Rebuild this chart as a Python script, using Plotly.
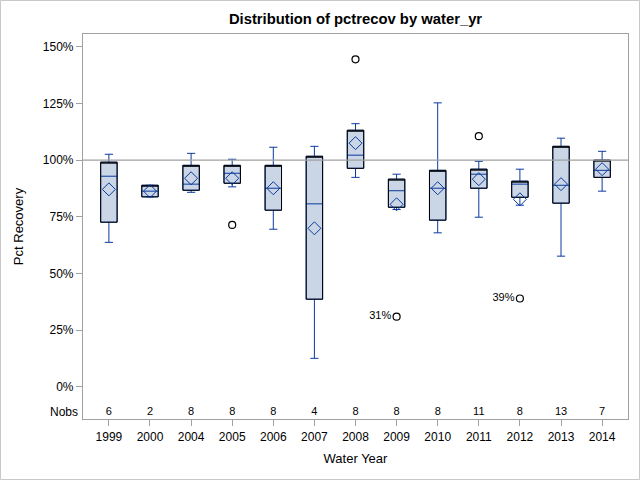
import plotly.graph_objects as go

years = ["1999", "2000", "2004", "2005", "2006", "2007", "2008", "2009", "2010", "2011", "2012", "2013", "2014"]
nobs = [6, 2, 8, 8, 8, 4, 8, 8, 8, 11, 8, 13, 7]
lower_whisker = [63.7, 83.8, 85.8, 88.2, 69.5, 12.5, 92.4, 78.2, 67.9, 74.8, 80.1, 57.6, 86.3]
q1 = [72.6, 83.8, 86.7, 89.8, 77.9, 38.6, 96.4, 79.2, 73.5, 87.6, 83.6, 81.0, 92.4]
median = [92.9, 86.3, 89.4, 94.2, 87.6, 80.7, 102.2, 86.5, 87.6, 93.8, 89.4, 88.9, 95.5]
q3 = [99.1, 88.9, 97.7, 97.7, 97.7, 101.7, 113.2, 91.6, 95.5, 96.0, 90.7, 106.1, 100.0]
upper_whisker = [102.6, 88.9, 103.0, 100.4, 105.7, 106.1, 116.1, 93.8, 125.3, 99.5, 96.0, 109.7, 103.9]
means = [87.1, 86.3, 92.0, 92.0, 87.6, 69.9, 107.5, 80.5, 87.6, 91.6, 82.7, 89.4, 96.0]
outlier_years = ["2005", "2008", "2009", "2011", "2012"]
outlier_values = [71.4, 144.5, 30.9, 110.6, 38.9]
outlier_labels = ["", "", "31%", "", "39%"]
ref_value = 100
y_ticks = [0, 25, 50, 75, 100, 125, 150]
nobs_row_y = -11.2

BLUE = "#0a3a9e"
FILL = "#cad5e5"
AXIS = "#a0a0a0"
FONT = "Liberation Sans, Arial, sans-serif"

fig = go.Figure()

# filled box with blue whiskers and median
fig.add_trace(go.Box(
    x=years, q1=q1, median=median, q3=q3,
    lowerfence=lower_whisker, upperfence=upper_whisker,
    fillcolor=FILL, line=dict(color=BLUE, width=1),
    width=0.4, whiskerwidth=0.5, boxpoints=False, hoverinfo="skip",
    showlegend=False,
))
# black box outline on top
fig.add_trace(go.Box(
    x=years, q1=q1, median=q3, q3=q3,
    lowerfence=q1, upperfence=q3,
    fillcolor="rgba(0,0,0,0)", line=dict(color="black", width=1),
    width=0.4, whiskerwidth=0, boxpoints=False, hoverinfo="skip",
    showlegend=False,
))
# means
fig.add_trace(go.Scatter(
    x=years, y=means, mode="markers",
    marker=dict(symbol="diamond-open", size=10, color=BLUE, line=dict(width=1, color=BLUE)),
    showlegend=False, hoverinfo="skip",
))
# outliers
fig.add_trace(go.Scatter(
    x=outlier_years, y=outlier_values, mode="markers+text",
    text=outlier_labels, textposition="middle left",
    textfont=dict(family=FONT, size=11, color="black"),
    marker=dict(symbol="circle-open", size=7, color="black", line=dict(width=1.2, color="black")),
    showlegend=False, hoverinfo="skip",
))
# Nobs row
fig.add_trace(go.Scatter(
    x=years, y=[nobs_row_y] * len(years), mode="text",
    text=[str(n) for n in nobs],
    textfont=dict(family=FONT, size=11, color="black"),
    showlegend=False, hoverinfo="skip",
))

fig.add_hline(y=ref_value, line=dict(color=AXIS, width=1.2), layer="above")

fig.add_annotation(text="Nobs", xref="paper", yref="y", x=0, y=nobs_row_y,
                   xanchor="right", xshift=-3, showarrow=False,
                   font=dict(family=FONT, size=12, color="black"))

# outer border
fig.add_shape(type="rect", xref="paper", yref="paper",
              x0=-82.5 / 545, x1=1 + 11.5 / 545, y0=-60.5 / 385, y1=1 + 33.5 / 385,
              line=dict(color="#c8c8c8", width=1), layer="below")

fig.update_layout(
    width=640, height=480,
    margin=dict(l=83, r=12, t=34, b=61),
    paper_bgcolor="white", plot_bgcolor="white",
    boxmode="overlay",
    font=dict(family=FONT, size=12, color="black"),
    title=dict(text="<b>Distribution of pctrecov by water_yr</b>",
               x=(83 + 545 / 2) / 640, xanchor="center", y=1 - 19 / 480, yanchor="middle",
               font=dict(family=FONT, size=14.8, color="black")),
    xaxis=dict(
        type="category", categoryorder="array", categoryarray=years,
        range=[-0.63, 12.63],
        title=dict(text="Water Year", font=dict(family=FONT, size=13), standoff=11),
        showline=True, linecolor=AXIS, mirror=True, linewidth=1.2,
        ticks="outside", ticklen=6, tickcolor=AXIS,
        showgrid=False, zeroline=False,
        tickfont=dict(family=FONT, size=12),
    ),
    yaxis=dict(
        range=[-14.3, 155.7],
        tickvals=y_ticks, ticktext=[f"{v}%" for v in y_ticks],
        title=dict(text="Pct Recovery", font=dict(family=FONT, size=13), standoff=16),
        showline=True, linecolor=AXIS, mirror=True, linewidth=1.2,
        ticks="outside", ticklen=6, tickcolor=AXIS,
        showgrid=False, zeroline=False,
        tickfont=dict(family=FONT, size=12),
    ),
)

fig.write_html("out.html", config={"displayModeBar": False},
               post_script="document.body.style.margin='0px';")
